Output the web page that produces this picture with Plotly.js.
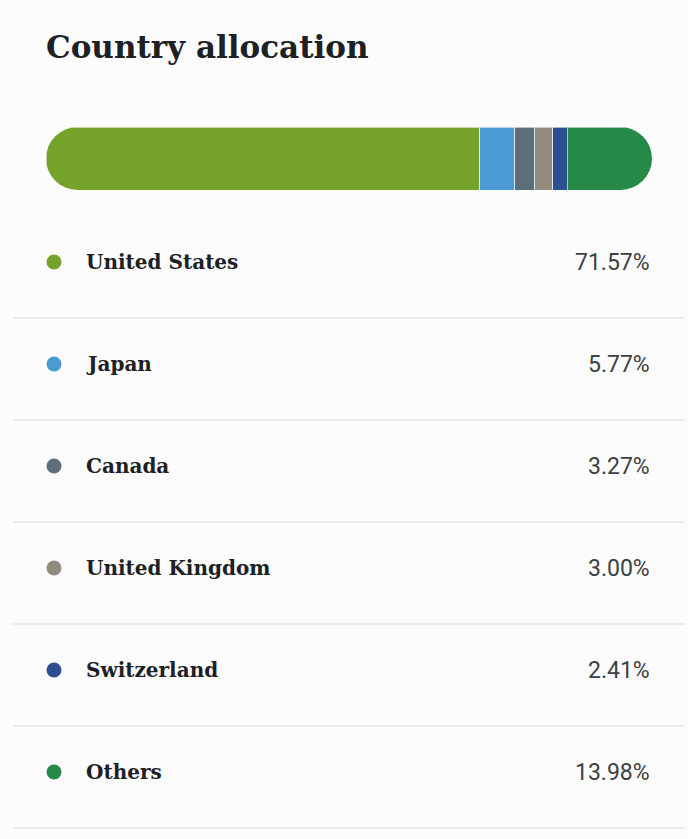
<!DOCTYPE html>
<html>
<head>
<meta charset="utf-8">
<script src="https://cdn.plot.ly/plotly-3.0.1.min.js"></script>
<style>
  html, body { margin: 0; padding: 0; background: #fcfcfc; }
  #chart { width: 688px; height: 839px; }
</style>
</head>
<body>
<div id="chart"></div>
<script>
const countries = ["United States", "Japan", "Canada", "United Kingdom", "Switzerland", "Others"];
const shares = [71.57, 5.77, 3.27, 3.00, 2.41, 13.98];
const colors = ["#74a22a", "#4a9bd4", "#5d6f7b", "#938a7f", "#2b4f91", "#258a47"];
const valueLabels = shares.map(v => v.toFixed(2) + "%");

const W = 688, H = 839;
const total = shares.reduce((a, b) => a + b, 0);
const rowIdx = countries.map((_, i) => i);

// stacked bar traces
const data = countries.map((c, i) => ({
  type: "bar",
  orientation: "h",
  name: c,
  x: [shares[i]],
  y: [0],
  width: [1],
  xaxis: "x",
  yaxis: "y",
  marker: { color: colors[i], line: { color: "rgba(252,252,252,0.6)", width: 1 } },
  hoverinfo: "skip",
  showlegend: false
}));

// legend dots
const DOT_X = 54, LABEL_X = 84, VALUE_X = 652;
data.push({
  type: "scatter",
  mode: "markers",
  x: rowIdx.map(() => DOT_X),
  y: rowIdx,
  xaxis: "x2",
  yaxis: "y2",
  marker: { color: colors, size: 15 },
  hoverinfo: "skip",
  showlegend: false
});

const annotations = [];
rowIdx.forEach(i => {
  annotations.push({
    xref: "x2", yref: "y2", x: LABEL_X, y: i,
    text: countries[i], showarrow: false, xanchor: "left", yanchor: "middle",
    font: { family: "DejaVu Serif", size: 20, color: "#1d2125", weight: 700 }
  });
  annotations.push({
    xref: "x2", yref: "y2", x: VALUE_X, y: i,
    text: valueLabels[i], showarrow: false, xanchor: "right", yanchor: "middle",
    font: { family: "Roboto", size: 23, color: "#3b4045" }
  });
});

const rowPitch = 102;
const firstRowPx = 262;
const y2TopPx = 210;
const y2Range = [(H - firstRowPx) / rowPitch, (y2TopPx - firstRowPx) / rowPitch];
const sepVals = rowIdx.map(i => i + 0.55);

const layout = {
  width: W, height: H,
  margin: { l: 0, r: 0, t: 0, b: 0 },
  paper_bgcolor: "#fcfcfc",
  plot_bgcolor: "rgba(0,0,0,0)",
  barmode: "stack",
  bargap: 0,
  title: {
    text: "<b>Country allocation</b>",
    x: 46 / W, xanchor: "left", xref: "paper",
    y: 1 - 47 / H, yanchor: "middle", yref: "paper",
    font: { family: "DejaVu Serif", size: 31, color: "#1d2125" }
  },
  xaxis: {
    domain: [46 / W, 652 / W], range: [0, total],
    visible: false, fixedrange: true
  },
  yaxis: {
    domain: [(H - 190) / H, (H - 127) / H], range: [-0.5, 0.5],
    visible: false, fixedrange: true
  },
  xaxis2: {
    domain: [13 / W, 685 / W], range: [13, 685], anchor: "y2",
    visible: false, fixedrange: true
  },
  yaxis2: {
    domain: [0, (H - y2TopPx) / H], range: y2Range, anchor: "x2",
    showgrid: true, gridcolor: "#ebebee", gridwidth: 1.5,
    tickmode: "array", tickvals: sepVals, showticklabels: false,
    zeroline: false, showline: false, ticks: "", fixedrange: true
  },
  annotations: annotations
};

Plotly.newPlot("chart", data, layout, { staticPlot: true, displayModeBar: false }).then(gd => {
  const layer = gd.querySelector(".barlayer");
  if (!layer) return;
  const bb = layer.getBBox();
  const svg = layer.ownerSVGElement;
  const ns = "http://www.w3.org/2000/svg";
  let defs = svg.querySelector("defs");
  if (!defs) { defs = document.createElementNS(ns, "defs"); svg.insertBefore(defs, svg.firstChild); }
  const cp = document.createElementNS(ns, "clipPath");
  cp.setAttribute("id", "roundBarClip");
  cp.setAttribute("clipPathUnits", "userSpaceOnUse");
  const r = document.createElementNS(ns, "rect");
  r.setAttribute("x", bb.x);
  r.setAttribute("y", bb.y);
  r.setAttribute("width", bb.width);
  r.setAttribute("height", bb.height);
  r.setAttribute("rx", bb.height / 2);
  r.setAttribute("ry", bb.height / 2);
  cp.appendChild(r);
  defs.appendChild(cp);
  layer.setAttribute("clip-path", "url(#roundBarClip)");
});
</script>
</body>
</html>
